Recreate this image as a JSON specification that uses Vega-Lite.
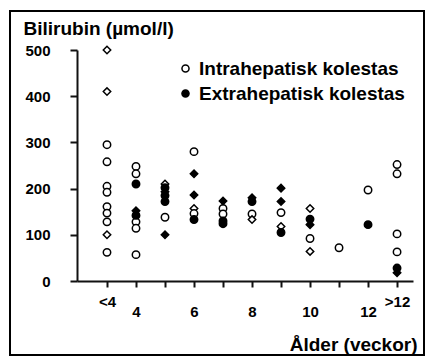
{
  "$schema": "https://vega.github.io/schema/vega-lite/v6.json",
  "autosize": {"type": "none"},
  "width": 414,
  "height": 344,
  "padding": {"left": 10, "top": 11, "right": 1, "bottom": 1},
  "background": "white",
  "config": {
    "view": {"stroke": "black", "strokeWidth": 2},
    "font": "Liberation Sans"
  },
  "data": {
    "values": [
      {"alder": 3, "bilirubin": 500, "grupp": "Intrahepatisk kolestas", "typ": "romb"},
      {"alder": 3, "bilirubin": 410, "grupp": "Intrahepatisk kolestas", "typ": "romb"},
      {"alder": 3, "bilirubin": 295, "grupp": "Intrahepatisk kolestas", "typ": "cirkel"},
      {"alder": 3, "bilirubin": 258, "grupp": "Intrahepatisk kolestas", "typ": "cirkel"},
      {"alder": 3, "bilirubin": 205, "grupp": "Intrahepatisk kolestas", "typ": "cirkel"},
      {"alder": 3, "bilirubin": 192, "grupp": "Intrahepatisk kolestas", "typ": "cirkel"},
      {"alder": 3, "bilirubin": 161, "grupp": "Intrahepatisk kolestas", "typ": "cirkel"},
      {"alder": 3, "bilirubin": 147, "grupp": "Intrahepatisk kolestas", "typ": "cirkel"},
      {"alder": 3, "bilirubin": 128, "grupp": "Intrahepatisk kolestas", "typ": "cirkel"},
      {"alder": 3, "bilirubin": 100, "grupp": "Intrahepatisk kolestas", "typ": "romb"},
      {"alder": 3, "bilirubin": 62, "grupp": "Intrahepatisk kolestas", "typ": "cirkel"},
      {"alder": 4, "bilirubin": 248, "grupp": "Intrahepatisk kolestas", "typ": "cirkel"},
      {"alder": 4, "bilirubin": 232, "grupp": "Intrahepatisk kolestas", "typ": "cirkel"},
      {"alder": 4, "bilirubin": 128, "grupp": "Intrahepatisk kolestas", "typ": "cirkel"},
      {"alder": 4, "bilirubin": 114, "grupp": "Intrahepatisk kolestas", "typ": "cirkel"},
      {"alder": 4, "bilirubin": 57, "grupp": "Intrahepatisk kolestas", "typ": "cirkel"},
      {"alder": 4, "bilirubin": 210, "grupp": "Extrahepatisk kolestas", "typ": "cirkel"},
      {"alder": 4, "bilirubin": 152, "grupp": "Extrahepatisk kolestas", "typ": "romb"},
      {"alder": 4, "bilirubin": 142, "grupp": "Extrahepatisk kolestas", "typ": "cirkel"},
      {"alder": 5, "bilirubin": 210, "grupp": "Intrahepatisk kolestas", "typ": "romb"},
      {"alder": 5, "bilirubin": 138, "grupp": "Intrahepatisk kolestas", "typ": "cirkel"},
      {"alder": 5, "bilirubin": 202, "grupp": "Extrahepatisk kolestas", "typ": "cirkel"},
      {"alder": 5, "bilirubin": 193, "grupp": "Extrahepatisk kolestas", "typ": "romb"},
      {"alder": 5, "bilirubin": 185, "grupp": "Extrahepatisk kolestas", "typ": "cirkel"},
      {"alder": 5, "bilirubin": 172, "grupp": "Extrahepatisk kolestas", "typ": "cirkel"},
      {"alder": 5, "bilirubin": 100, "grupp": "Extrahepatisk kolestas", "typ": "romb"},
      {"alder": 6, "bilirubin": 280, "grupp": "Intrahepatisk kolestas", "typ": "cirkel"},
      {"alder": 6, "bilirubin": 157, "grupp": "Intrahepatisk kolestas", "typ": "romb"},
      {"alder": 6, "bilirubin": 146, "grupp": "Intrahepatisk kolestas", "typ": "cirkel"},
      {"alder": 6, "bilirubin": 232, "grupp": "Extrahepatisk kolestas", "typ": "romb"},
      {"alder": 6, "bilirubin": 186, "grupp": "Extrahepatisk kolestas", "typ": "romb"},
      {"alder": 6, "bilirubin": 133, "grupp": "Extrahepatisk kolestas", "typ": "cirkel"},
      {"alder": 7, "bilirubin": 157, "grupp": "Intrahepatisk kolestas", "typ": "cirkel"},
      {"alder": 7, "bilirubin": 145, "grupp": "Intrahepatisk kolestas", "typ": "cirkel"},
      {"alder": 7, "bilirubin": 173, "grupp": "Extrahepatisk kolestas", "typ": "romb"},
      {"alder": 7, "bilirubin": 130, "grupp": "Extrahepatisk kolestas", "typ": "cirkel"},
      {"alder": 7, "bilirubin": 124, "grupp": "Extrahepatisk kolestas", "typ": "cirkel"},
      {"alder": 8, "bilirubin": 145, "grupp": "Intrahepatisk kolestas", "typ": "cirkel"},
      {"alder": 8, "bilirubin": 133, "grupp": "Intrahepatisk kolestas", "typ": "romb"},
      {"alder": 8, "bilirubin": 180, "grupp": "Extrahepatisk kolestas", "typ": "romb"},
      {"alder": 8, "bilirubin": 172, "grupp": "Extrahepatisk kolestas", "typ": "cirkel"},
      {"alder": 9, "bilirubin": 148, "grupp": "Intrahepatisk kolestas", "typ": "cirkel"},
      {"alder": 9, "bilirubin": 118, "grupp": "Intrahepatisk kolestas", "typ": "romb"},
      {"alder": 9, "bilirubin": 201, "grupp": "Extrahepatisk kolestas", "typ": "romb"},
      {"alder": 9, "bilirubin": 172, "grupp": "Extrahepatisk kolestas", "typ": "romb"},
      {"alder": 9, "bilirubin": 105, "grupp": "Extrahepatisk kolestas", "typ": "cirkel"},
      {"alder": 10, "bilirubin": 157, "grupp": "Intrahepatisk kolestas", "typ": "romb"},
      {"alder": 10, "bilirubin": 92, "grupp": "Intrahepatisk kolestas", "typ": "cirkel"},
      {"alder": 10, "bilirubin": 64, "grupp": "Intrahepatisk kolestas", "typ": "romb"},
      {"alder": 10, "bilirubin": 134, "grupp": "Extrahepatisk kolestas", "typ": "cirkel"},
      {"alder": 10, "bilirubin": 122, "grupp": "Extrahepatisk kolestas", "typ": "romb"},
      {"alder": 11, "bilirubin": 72, "grupp": "Intrahepatisk kolestas", "typ": "cirkel"},
      {"alder": 12, "bilirubin": 197, "grupp": "Intrahepatisk kolestas", "typ": "cirkel"},
      {"alder": 12, "bilirubin": 122, "grupp": "Extrahepatisk kolestas", "typ": "cirkel"},
      {"alder": 13, "bilirubin": 252, "grupp": "Intrahepatisk kolestas", "typ": "cirkel"},
      {"alder": 13, "bilirubin": 232, "grupp": "Intrahepatisk kolestas", "typ": "cirkel"},
      {"alder": 13, "bilirubin": 102, "grupp": "Intrahepatisk kolestas", "typ": "cirkel"},
      {"alder": 13, "bilirubin": 63, "grupp": "Intrahepatisk kolestas", "typ": "cirkel"},
      {"alder": 13, "bilirubin": 28, "grupp": "Extrahepatisk kolestas", "typ": "cirkel"},
      {"alder": 13, "bilirubin": 18, "grupp": "Extrahepatisk kolestas", "typ": "romb"}
    ]
  },
  "mark": {"type": "point", "filled": true, "stroke": "black", "strokeWidth": 1.5, "size": 55, "opacity": 1},
  "encoding": {
    "x": {
      "field": "alder",
      "type": "quantitative",
      "scale": {"domain": [1.966, 13.55], "range": [67, 403], "nice": false, "zero": false},
      "axis": {
        "orient": "bottom",
        "offset": -74,
        "domain": true,
        "domainColor": "#111111",
        "domainWidth": 2,
        "grid": false,
        "ticks": true,
        "tickColor": "#111111",
        "tickSize": 6,
        "tickWidth": 2,
        "values": [3, 4, 5, 6, 7, 8, 9, 10, 11, 12, 13],
        "labelExpr": "datum.value == 3 ? '<4' : datum.value == 13 ? '>12' : (datum.value % 2 == 0 ? datum.label : '')",
        "labelColor": "black",
        "labelFont": "Liberation Sans",
        "labelFontSize": 15,
        "labelFontWeight": "bold",
        "labelFlush": false,
        "labelOverlap": false,
        "labelBound": false,
        "labelPadding": {"condition": {"test": "datum.value == 3 || datum.value == 13", "value": 7}, "value": 17},
        "title": "Ålder (veckor)",
        "titleFont": "Liberation Sans",
        "titleFontSize": 19,
        "titleFontWeight": "bold",
        "titleColor": "black",
        "titleAlign": "right",
        "titleBaseline": "alphabetic",
        "titleAnchor": null,
        "titleX": 407,
        "titleY": 69
      }
    },
    "y": {
      "field": "bilirubin",
      "type": "quantitative",
      "scale": {"domain": [0, 500], "range": [270, 39], "nice": false, "zero": false},
      "axis": {
        "orient": "left",
        "offset": -67,
        "domain": true,
        "domainColor": "#111111",
        "domainWidth": 2,
        "grid": false,
        "ticks": true,
        "tickColor": "#111111",
        "tickSize": 7,
        "tickWidth": 2,
        "values": [0, 100, 200, 300, 400, 500],
        "labelColor": "black",
        "labelFont": "Liberation Sans",
        "labelFontSize": 15,
        "labelFontWeight": "bold",
        "labelFlush": false,
        "labelOverlap": false,
        "labelBound": false,
        "labelPadding": 20,
        "title": "Bilirubin (µmol/l)",
        "titleFont": "Liberation Sans",
        "titleFontSize": 19,
        "titleFontWeight": "bold",
        "titleColor": "black",
        "titleAngle": 0,
        "titleAlign": "left",
        "titleBaseline": "alphabetic",
        "titleAnchor": null,
        "titleX": -54,
        "titleY": 23
      }
    },
    "fill": {
      "field": "grupp",
      "type": "nominal",
      "scale": {"domain": ["Intrahepatisk kolestas", "Extrahepatisk kolestas"], "range": ["white", "black"]},
      "legend": {
        "orient": "none",
        "legendX": 166,
        "legendY": 48,
        "title": null,
        "symbolType": "circle",
        "symbolSize": 50,
        "symbolStrokeColor": "black",
        "symbolStrokeWidth": 1.5,
        "labelFont": "Liberation Sans",
        "labelFontSize": 19,
        "labelFontWeight": "bold",
        "labelColor": "black",
        "labelOffset": 4,
        "labelLimit": 300,
        "rowPadding": 5,
        "padding": 0
      }
    },
    "shape": {
      "field": "typ",
      "type": "nominal",
      "scale": {"domain": ["cirkel", "romb"], "range": ["circle", "diamond"]},
      "legend": null
    }
  }
}
